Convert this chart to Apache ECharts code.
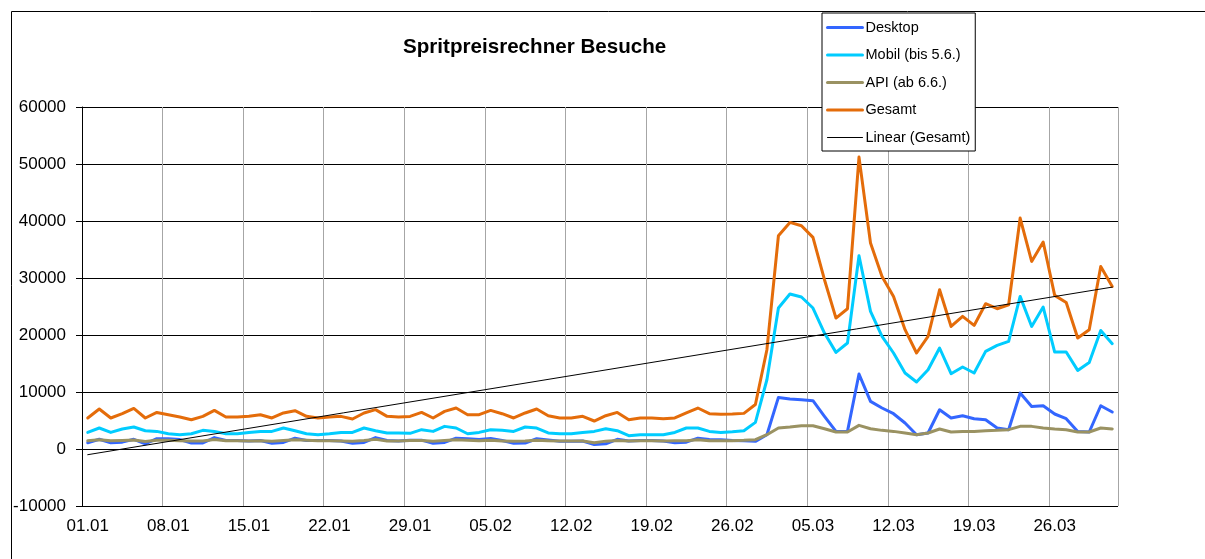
<!DOCTYPE html>
<html>
<head>
<meta charset="utf-8">
<script src="https://cdn.jsdelivr.net/npm/echarts@6/dist/echarts.min.js"></script>
<style>
  html, body { margin: 0; padding: 0; background: #fff; }
  #main { width: 1205px; height: 559px; }
</style>
</head>
<body>
<div id="main"></div>
<script>
// days 01.01 - 31.03
var monthLengths = [31, 28, 31];
var categories = [];
monthLengths.forEach(function (len, m) {
    for (var d = 1; d <= len; d++) {
        categories.push((d < 10 ? '0' : '') + d + '.0' + (m + 1));
    }
});

var desktop = [
    1100, 1700, 1100, 1200, 1700, 900, 1800, 1800, 1650, 1050,
    1050, 2000, 1500, 1500, 1400, 1500, 1000, 1150, 1900, 1500,
    1500, 1500, 1400, 1000, 1150, 2000, 1500, 1400, 1550, 1550,
    1000, 1150, 1900, 1800, 1650, 1850, 1500, 1000, 1050, 1800,
    1600, 1350, 1350, 1400, 800, 900, 1700, 1400, 1500, 1500,
    1400, 1100, 1200, 1900, 1650, 1630, 1510, 1460, 1340, 2510,
    9050, 8770, 8650, 8470, 5720, 3090, 3090, 13150, 8350, 7190,
    6190, 4560, 2510, 2810, 6890, 5440, 5840, 5315, 5140, 3680,
    3390, 9820, 7470, 7590, 6140, 5315, 3090, 2980, 7590, 6490
];

var mobil = [
    2910, 3680, 2910, 3510, 3860, 3210, 3090, 2680, 2510, 2680,
    3270, 3090, 2680, 2680, 2910, 3090, 3090, 3680, 3210, 2680,
    2510, 2680, 2910, 2910, 3680, 3210, 2810, 2810, 2750, 3390,
    3090, 3970, 3680, 2680, 2910, 3390, 3270, 3090, 3860, 3680,
    2810, 2680, 2680, 2910, 3090, 3560, 3210, 2330, 2510, 2510,
    2510, 2910, 3680, 3680, 3090, 2910, 3035, 3210, 4670, 12150,
    24730, 27190, 26660, 24730, 20350, 16950, 18590, 33900, 24140, 19750,
    16840, 13330, 11750, 13910, 17720, 13210, 14380, 13330, 17120, 18170,
    18870, 26770, 21500, 24900, 17010, 17010, 13790, 15190, 20800, 18470
];

var api = [
    1430, 1640, 1430, 1480, 1560, 1330, 1530, 1530, 1450, 1410,
    1410, 1680, 1430, 1430, 1420, 1430, 1350, 1480, 1610, 1550,
    1430, 1430, 1420, 1350, 1480, 1690, 1420, 1400, 1470, 1480,
    1350, 1480, 1610, 1530, 1450, 1530, 1420, 1350, 1400, 1540,
    1430, 1400, 1400, 1420, 1100, 1380, 1510, 1410, 1430, 1430,
    1410, 1430, 1440, 1610, 1450, 1460, 1460, 1515, 1630, 2510,
    3680, 3860, 4090, 4090, 3560, 2980, 2980, 4150, 3560, 3270,
    3090, 2800, 2510, 2810, 3510, 2980, 3090, 3090, 3210, 3270,
    3390, 3970, 3970, 3680, 3510, 3390, 2980, 2980, 3680, 3510
];

var gesamt = [
    5440, 7020, 5440, 6190, 7120, 5440, 6420, 6020, 5610, 5140,
    5730, 6770, 5610, 5610, 5730, 6020, 5440, 6320, 6720, 5730,
    5440, 5610, 5730, 5260, 6320, 6900, 5730, 5610, 5720, 6420,
    5440, 6600, 7190, 6020, 6020, 6770, 6190, 5440, 6320, 7020,
    5840, 5440, 5440, 5730, 4910, 5840, 6420, 5140, 5440, 5440,
    5320, 5440, 6320, 7190, 6190, 6100, 6150, 6250, 7800, 17420,
    37410, 39750, 39170, 37120, 29700, 22970, 24610, 51210, 36130, 30280,
    26770, 20930, 16840, 19750, 27940, 21500, 23260, 21680, 25490, 24610,
    25310, 40520, 32910, 36310, 26950, 25710, 19470, 20930, 32030, 28520
];

// linear trend of Gesamt, values at first and last day
var trendEnds = [-1000, 28400];

var yTicks = { min: -10000, max: 60000, step: 10000 };

var trend = categories.map(function (c, i) {
    if (i === 0) return trendEnds[0];
    if (i === categories.length - 1) return trendEnds[1];
    return null;
});

var font = 'Liberation Sans, Arial, sans-serif';

var myChart = echarts.init(document.getElementById('main'));

function lineSeries(name, data, color, width) {
    return {
        name: name,
        type: 'line',
        data: data,
        symbol: 'none',
        showSymbol: false,
        connectNulls: true,
        lineStyle: { color: color, width: width, cap: 'round', join: 'round' },
        itemStyle: { color: color }
    };
}

function legendItem(name, width) {
    return { name: name, lineStyle: { width: width } };
}

var option = {
    animation: false,
    backgroundColor: '#fff',
    textStyle: { fontFamily: font },
    graphic: [{
        type: 'rect',
        shape: { x: 11.5, y: 11.5, width: 1400, height: 800 },
        style: { fill: null, stroke: '#000', lineWidth: 1 },
        z: -1
    }],
    title: {
        text: 'Spritpreisrechner Besuche',
        left: 403,
        top: 37,
        padding: 0,
        textStyle: { fontSize: 20.6, fontWeight: 'bold', color: '#000', fontFamily: font }
    },
    legend: {
        orient: 'vertical',
        left: 822,
        top: 13,
        padding: [7, 5, 6, 4],
        itemWidth: 35,
        itemHeight: 14,
        itemGap: 12.5,
        backgroundColor: '#fff',
        borderColor: '#000',
        borderWidth: 1,
        borderRadius: 0,
        itemStyle: { opacity: 0, borderWidth: 0 },
        textStyle: { fontSize: 14.5, color: '#000', fontFamily: font, padding: [0, 0, 0, -2] },
        data: [
            legendItem('Desktop', 3),
            legendItem('Mobil (bis 5.6.)', 3),
            legendItem('API (ab 6.6.)', 3),
            legendItem('Gesamt', 3),
            legendItem('Linear (Gesamt)', 1)
        ]
    },
    grid: { left: 82, right: 87, top: 107, bottom: 53 },
    xAxis: {
        type: 'category',
        data: categories,
        boundaryGap: true,
        axisLine: { onZero: true, lineStyle: { color: '#000', width: 1 } },
        axisTick: { interval: 6, length: 5, lineStyle: { color: '#000' } },
        axisLabel: { interval: 6, fontSize: 17, color: '#000', margin: 12, fontFamily: font },
        splitLine: { show: true, interval: 6, lineStyle: { color: '#a6a6a6', width: 1 } }
    },
    yAxis: {
        type: 'value',
        min: yTicks.min,
        max: yTicks.max,
        interval: yTicks.step,
        axisLine: { show: true, lineStyle: { color: '#000', width: 1 } },
        axisTick: { show: true, length: 6, lineStyle: { color: '#000' } },
        axisLabel: {
            fontSize: 17, color: '#000', margin: 16, fontFamily: font,
            formatter: function (v) { return String(v); }
        },
        splitLine: { show: true, lineStyle: { color: '#000', width: 1 } }
    },
    series: [
        lineSeries('Desktop', desktop, '#3366ff', 3),
        lineSeries('Mobil (bis 5.6.)', mobil, '#00ccff', 3),
        lineSeries('API (ab 6.6.)', api, '#9a9262', 3),
        lineSeries('Gesamt', gesamt, '#e46c0a', 3),
        lineSeries('Linear (Gesamt)', trend, '#000', 1)
    ]
};

myChart.setOption(option);
</script>
</body>
</html>
